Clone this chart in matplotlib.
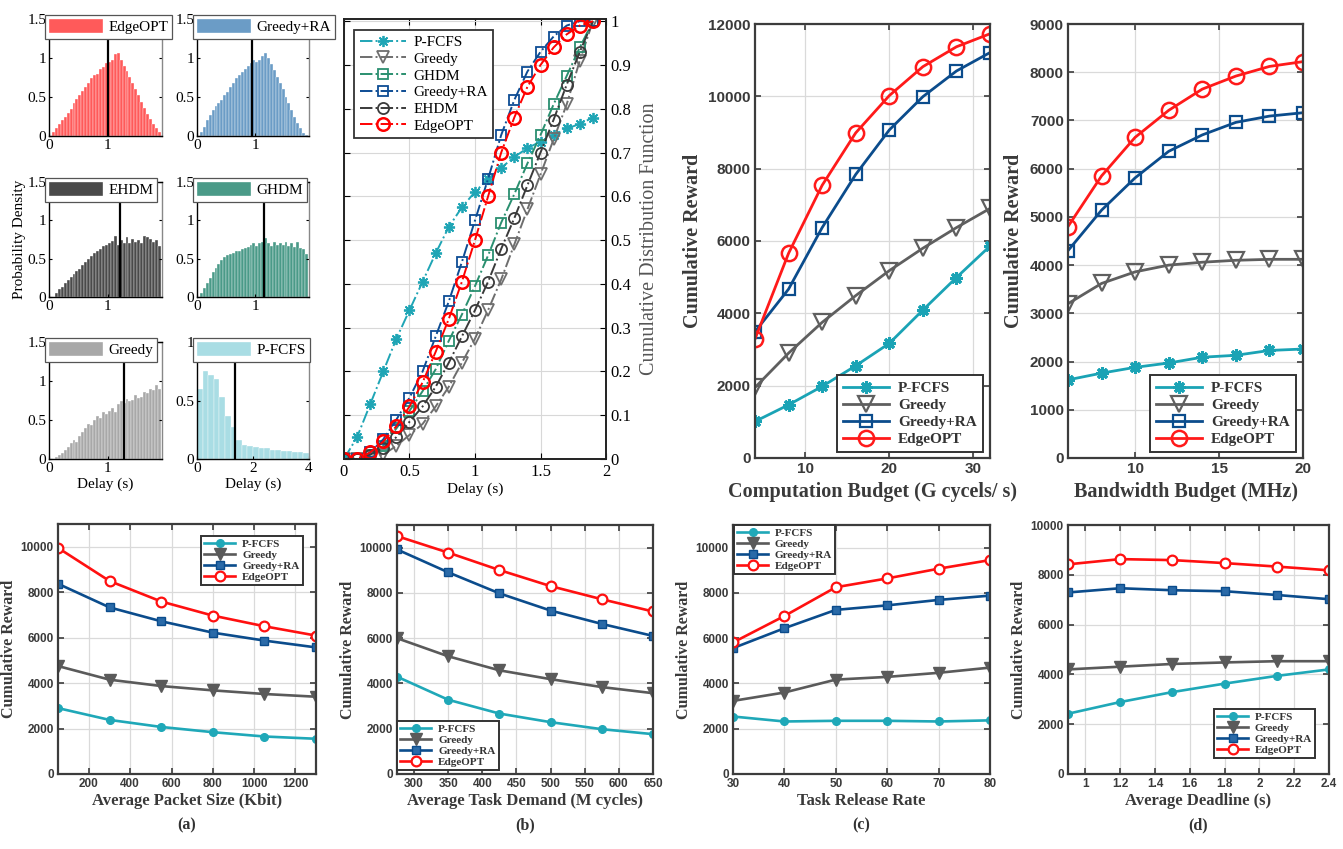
import matplotlib.pyplot as plt
from matplotlib.patches import Patch
import numpy as np

plt.rcParams['font.family'] = ['Liberation Serif', 'DejaVu Serif']

# ---------------- data ----------------
# delay histograms (bin width 0.05 s over 0..1.9 s)
hist_bin_width = 0.05
hist_edgeopt = [0.0, 0.05, 0.1, 0.15, 0.2, 0.25, 0.3, 0.35, 0.42, 0.48, 0.52, 0.58, 0.63,
                0.68, 0.75, 0.78, 0.8, 0.86, 0.88, 0.93, 0.95, 0.97, 1.05, 1.07, 0.97, 0.9,
                0.83, 0.76, 0.68, 0.6, 0.52, 0.44, 0.36, 0.28, 0.22, 0.16, 0.1, 0.05]
hist_greedy_ra = [0.0, 0.05, 0.12, 0.2, 0.27, 0.33, 0.38, 0.42, 0.46, 0.52, 0.57, 0.63, 0.68,
                  0.74, 0.78, 0.82, 0.86, 0.9, 0.93, 0.98, 0.95, 0.97, 1.02, 1.07, 1.0, 0.92,
                  0.84, 0.76, 0.68, 0.6, 0.5, 0.42, 0.33, 0.25, 0.17, 0.1, 0.04, 0.01]
hist_ehdm = [0.0, 0.0, 0.05, 0.1, 0.13, 0.18, 0.22, 0.26, 0.3, 0.34, 0.37, 0.42, 0.46, 0.5,
             0.54, 0.57, 0.6, 0.62, 0.66, 0.68, 0.7, 0.73, 0.8, 0.68, 0.75, 0.7, 0.78, 0.7,
             0.76, 0.72, 0.75, 0.7, 0.8, 0.78, 0.76, 0.72, 0.75, 0.66]
hist_ghdm = [0.0, 0.05, 0.12, 0.18, 0.25, 0.32, 0.38, 0.43, 0.48, 0.52, 0.55, 0.56, 0.58, 0.6,
             0.6, 0.62, 0.64, 0.65, 0.68, 0.7, 0.66, 0.7, 0.72, 0.77, 0.7, 0.66, 0.72, 0.68,
             0.7, 0.68, 0.72, 0.66, 0.7, 0.65, 0.72, 0.64, 0.62, 0.56]
hist_greedy = [0.0, 0.0, 0.02, 0.05, 0.08, 0.12, 0.15, 0.2, 0.24, 0.22, 0.3, 0.35, 0.4, 0.45,
               0.44, 0.5, 0.55, 0.52, 0.6, 0.58, 0.62, 0.65, 0.6, 0.7, 0.75, 0.72, 0.77, 0.74,
               0.76, 0.82, 0.78, 0.8, 0.86, 0.84, 0.9, 0.88, 0.95, 0.9]
# P-FCFS histogram (bin width 0.2 s over 0..4 s)
pfcfs_bin_width = 0.2
hist_pfcfs = [0.6, 0.75, 0.72, 0.68, 0.53, 0.37, 0.27, 0.16, 0.12, 0.11, 0.1, 0.09, 0.09,
              0.08, 0.08, 0.07, 0.07, 0.06, 0.06, 0.05]
mean_delay = {'EdgeOPT': 1.0, 'Greedy+RA': 0.95, 'EHDM': 1.2, 'GHDM': 1.15,
              'Greedy': 1.27, 'P-FCFS': 1.35}

# delay CDF
cdf_delay = [0, 0.1, 0.2, 0.3, 0.4, 0.5, 0.6, 0.7, 0.8, 0.9, 1.0, 1.1, 1.2, 1.3, 1.4, 1.5,
             1.6, 1.7, 1.8, 1.9]
cdf_pfcfs = [0, 0.05, 0.125, 0.2, 0.275, 0.34, 0.405, 0.47, 0.53, 0.575, 0.61, 0.64, 0.665,
             0.69, 0.71, 0.725, 0.74, 0.755, 0.765, 0.78]
cdf_greedy = [0, 0, 0.005, 0.01, 0.03, 0.055, 0.08, 0.12, 0.165, 0.22, 0.275, 0.34, 0.41,
              0.49, 0.57, 0.65, 0.73, 0.81, 0.91, 1.0]
cdf_ghdm = [0, 0, 0.01, 0.03, 0.07, 0.11, 0.155, 0.205, 0.27, 0.33, 0.395, 0.465, 0.54,
            0.605, 0.675, 0.74, 0.81, 0.875, 0.94, 1.0]
cdf_greedy_ra = [0, 0, 0.015, 0.045, 0.09, 0.14, 0.2, 0.28, 0.36, 0.45, 0.545, 0.64, 0.74,
                 0.82, 0.885, 0.93, 0.965, 0.99, 1.0, 1.0]
cdf_ehdm = [0, 0, 0.01, 0.025, 0.05, 0.085, 0.12, 0.165, 0.22, 0.28, 0.34, 0.405, 0.48,
            0.55, 0.625, 0.7, 0.775, 0.855, 0.93, 1.0]
cdf_edgeopt = [0, 0, 0.015, 0.04, 0.075, 0.12, 0.175, 0.245, 0.32, 0.405, 0.5, 0.6, 0.7,
               0.78, 0.85, 0.9, 0.94, 0.97, 0.99, 1.0]

# reward vs computation budget
comp_budget = [4, 8, 12, 16, 20, 24, 28, 32]
comp_pfcfs = [1010, 1470, 1980, 2550, 3170, 4090, 4990, 5860]
comp_greedy = [1950, 2900, 3750, 4490, 5180, 5800, 6370, 6900]
comp_greedy_ra = [3490, 4670, 6370, 7840, 9070, 9990, 10700, 11210]
comp_edgeopt = [3290, 5660, 7540, 8990, 10020, 10820, 11370, 11730]

# reward vs bandwidth budget
bw_budget = [6, 8, 10, 12, 14, 16, 18, 20]
bw_pfcfs = [1620, 1760, 1880, 1970, 2090, 2130, 2230, 2260]
bw_greedy = [3200, 3620, 3860, 4000, 4060, 4100, 4120, 4120]
bw_greedy_ra = [4300, 5140, 5810, 6360, 6700, 6960, 7090, 7160]
bw_edgeopt = [4800, 5850, 6650, 7210, 7650, 7920, 8120, 8220]

# (a) packet size
packet_size = [50, 300, 550, 800, 1050, 1300]
pkt_pfcfs = [2900, 2380, 2070, 1840, 1650, 1550]
pkt_greedy = [4750, 4150, 3870, 3680, 3520, 3400]
pkt_greedy_ra = [8370, 7330, 6720, 6220, 5870, 5570]
pkt_edgeopt = [9950, 8490, 7590, 6970, 6500, 6090]

# (b) task demand
task_demand = [275, 350, 425, 500, 575, 650]
dem_pfcfs = [4300, 3280, 2670, 2290, 1980, 1760]
dem_greedy = [6000, 5200, 4580, 4190, 3840, 3570]
dem_greedy_ra = [9920, 8910, 7980, 7220, 6630, 6100]
dem_edgeopt = [10510, 9780, 9010, 8300, 7720, 7180]

# (c) release rate
release_rate = [30, 40, 50, 60, 70, 80]
rel_pfcfs = [2540, 2320, 2350, 2350, 2320, 2370]
rel_greedy = [3230, 3600, 4170, 4290, 4470, 4700]
rel_greedy_ra = [5560, 6440, 7250, 7450, 7690, 7880]
rel_edgeopt = [5810, 6980, 8250, 8640, 9070, 9450]

# (d) deadline
deadline = [0.9, 1.2, 1.5, 1.8, 2.1, 2.4]
ddl_pfcfs = [2420, 2890, 3290, 3630, 3940, 4200]
ddl_greedy = [4200, 4310, 4420, 4480, 4530, 4530]
ddl_greedy_ra = [7290, 7460, 7380, 7340, 7190, 7020]
ddl_edgeopt = [8420, 8630, 8590, 8470, 8330, 8180]

reward_names = ['P-FCFS', 'Greedy', 'Greedy+RA', 'EdgeOPT']

# ---------------- figure ----------------
W, H = 1343, 849
fig = plt.figure(figsize=(W / 100, H / 100), dpi=100)


def px_axes(l, t, r, b):
    return fig.add_axes([l / W, 1 - b / H, (r - l) / W, (b - t) / H])


def sans_bold_ticks(ax, size):
    for lab in ax.get_xticklabels() + ax.get_yticklabels():
        lab.set_fontfamily('Liberation Sans')
        lab.set_fontweight('bold')
        lab.set_fontsize(size)
        lab.set_color('#3a3a3a')


def short_num(v):
    return ('%g' % v)


# ---- delay histograms ----
hist_specs = [
    ('EdgeOPT', hist_edgeopt, '#ff5a5a', (49, 19, 162, 136)),
    ('Greedy+RA', hist_greedy_ra, '#6b9cc6', (197, 19, 309, 136)),
    ('EHDM', hist_ehdm, '#4a4a4a', (49, 182, 162, 297)),
    ('GHDM', hist_ghdm, '#4a9a88', (197, 182, 309, 297)),
    ('Greedy', hist_greedy, '#a8a8a8', (49, 342, 162, 459)),
    ('P-FCFS', hist_pfcfs, '#a9dde4', (197, 342, 309, 459)),
]
for name, vals, col, box in hist_specs:
    ax = px_axes(*box)
    width = pfcfs_bin_width if name == 'P-FCFS' else hist_bin_width
    lefts = np.arange(len(vals)) * width
    ax.bar(lefts, vals, width=width, align='edge', color=col, edgecolor='white',
           linewidth=0.25, label=name)
    ax.axvline(mean_delay[name], color='black', lw=1.6)
    if name == 'P-FCFS':
        ax.set_xlim(0, 4)
        ax.set_ylim(0, 1)
        xt, yt = [0, 2, 4], [0, 0.5, 1]
    else:
        ax.set_xlim(0, 1.92)
        ax.set_ylim(0, 1.5)
        xt, yt = [0, 1], [0, 0.5, 1, 1.5]
    ax.set_xticks(xt)
    ax.set_xticklabels([short_num(v) for v in xt])
    ax.set_yticks(yt)
    ax.set_yticklabels([short_num(v) for v in yt])
    ax.tick_params(direction='in', length=2.5, labelsize=11, top=False, right=True, pad=2)
    for s in ax.spines.values():
        s.set_linewidth(1.0)
    ax.spines['right'].set_color('#888888')
    leg = ax.legend(loc='upper left', bbox_to_anchor=(-0.035, 1.035), handlelength=3.5,
                    handleheight=1.0, fancybox=False, framealpha=1, edgecolor='#555555',
                    borderpad=0.28, handletextpad=0.35, borderaxespad=0, fontsize=11)
    leg.get_frame().set_linewidth(0.9)
    if name == 'EHDM':
        ax.set_ylabel('Probability Density', fontsize=11, labelpad=1)
    if name in ('Greedy', 'P-FCFS'):
        ax.set_xlabel('Delay (s)', fontsize=11, labelpad=2)

# ---- delay CDF ----
ax = px_axes(344, 19, 606, 459)
cdf_specs = [
    ('P-FCFS', cdf_pfcfs, '#1fa5b5', (8, 2, 0), 8, 'full'),
    ('Greedy', cdf_greedy, '#6e6e6e', 'v', 8, 'none'),
    ('GHDM', cdf_ghdm, '#2a8f6f', 's', 6.5, 'none'),
    ('Greedy+RA', cdf_greedy_ra, '#0d4c94', 's', 6.5, 'none'),
    ('EHDM', cdf_ehdm, '#3a3a3a', 'o', 8, 'none'),
    ('EdgeOPT', cdf_edgeopt, '#ff0000', 'o', 9, 'none'),
]
for name, vals, col, mk, ms, fill in cdf_specs:
    ax.plot(cdf_delay, vals, linestyle='-.', color=col, lw=1.4, marker=mk, ms=ms,
            mfc='none' if fill == 'none' else col, mec=col,
            mew=1.8 if name == 'EdgeOPT' else 1.3, label=name)
ax.set_xlim(0, 2)
ax.set_ylim(0, 1.005)
cdf_xt = [0, 0.5, 1, 1.5, 2]
cdf_yt = [0, 0.1, 0.2, 0.3, 0.4, 0.5, 0.6, 0.7, 0.8, 0.9, 1]
ax.set_xticks(cdf_xt)
ax.set_xticklabels([short_num(v) for v in cdf_xt])
ax.set_yticks(cdf_yt)
ax.set_yticklabels([short_num(v) for v in cdf_yt])
ax.yaxis.tick_right()
ax.yaxis.set_label_position('right')
ax.grid(True, color='#d8d8d8', lw=0.8)
ax.set_axisbelow(True)
ax.tick_params(direction='in', length=4, labelsize=12, left=True, right=True, top=True)
for s in ax.spines.values():
    s.set_linewidth(1.4)
    s.set_color('#222222')
ax.set_ylabel('Cumulative Distribution Function', fontsize=14.5, color='#555555', labelpad=6)
ax.set_xlabel('Delay (s)', fontsize=11, labelpad=2)
ax.legend(loc='upper left', bbox_to_anchor=(0.04, 0.975), fancybox=False, framealpha=1,
          edgecolor='#333333', fontsize=11, handlelength=3.0, labelspacing=0.2,
          borderpad=0.35, borderaxespad=0, handletextpad=0.5).get_frame().set_linewidth(1.3)

# ---- reward curves ----
reward_style = {
    'big': {
        'P-FCFS': dict(color='#1aa3b5', marker=(8, 2, 0), ms=9, mew=2.2),
        'Greedy': dict(color='#5f5f5f', marker='v', ms=11, mfc='none', mew=1.6),
        'Greedy+RA': dict(color='#0b4c8c', marker='s', ms=8, mfc='none', mew=1.6),
        'EdgeOPT': dict(color='#ff1a1a', marker='o', ms=11, mfc='none', mew=1.8),
    },
    'small': {
        'P-FCFS': dict(color='#1fa8b8', marker='o', ms=5.5),
        'Greedy': dict(color='#5a5a5a', marker='v', ms=8),
        'Greedy+RA': dict(color='#0b4c8c', marker='s', ms=5.5, mfc='#2a6aa8'),
        'EdgeOPT': dict(color='#ff1010', marker='o', ms=7, mfc='white', mew=1.6),
    },
}


def reward_panel(box, x, series, xlim, xticks, ylim, yticks, xlabel, size, leg_loc,
                 leg_anchor, tag=None):
    ax = px_axes(*box)
    big = size == 'big'
    for name, vals in zip(reward_names, series):
        ax.plot(x, vals, lw=2.0 if big else 1.9, label=name, **reward_style[size][name])
    ax.set_xlim(*xlim)
    ax.set_ylim(*ylim)
    ax.set_xticks(xticks)
    ax.set_xticklabels([short_num(v) for v in xticks])
    ax.set_yticks(yticks)
    ax.grid(True, color='#dadada', lw=0.9)
    ax.set_axisbelow(True)
    ax.tick_params(direction='in', length=4, width=1.2, color='#3c3c3c', top=True,
                   right=True, pad=3)
    for s in ax.spines.values():
        s.set_color('#3c3c3c')
        s.set_linewidth(1.6)
    sans_bold_ticks(ax, 11 if big else 8.5)
    ax.set_ylabel('Cumulative Reward', fontsize=14.5 if big else 11.5, fontweight='bold',
                  color='#3a3a3a', labelpad=4 if big else 3)
    ax.set_xlabel(xlabel, fontsize=14.5 if big else 12, fontweight='bold', color='#3a3a3a',
                  labelpad=4 if big else 2)
    leg = ax.legend(loc=leg_loc, bbox_to_anchor=leg_anchor, fancybox=False, framealpha=1,
                    edgecolor='#333333', borderaxespad=0,
                    prop=dict(weight='bold', size=11 if big else 8),
                    handlelength=3.0 if big else 2.8,
                    labelspacing=0.22 if big else 0.1, borderpad=0.4 if big else 0.3,
                    handletextpad=0.6)
    leg.get_frame().set_linewidth(1.4)
    for t in leg.get_texts():
        t.set_color('#333333')
    if tag:
        ax.text(0.5, -0.205, tag, transform=ax.transAxes, ha='center', va='center',
                fontsize=11.5, fontweight='bold', color='#333333')
    return ax


reward_panel((755, 24, 990, 458), comp_budget,
             [comp_pfcfs, comp_greedy, comp_greedy_ra, comp_edgeopt],
             (4, 32), [10, 20, 30], (0, 12000), range(0, 12001, 2000),
             'Computation Budget (G cycels/ s)', 'big', 'lower right', (0.97, 0.013))
reward_panel((1068, 24, 1303, 458), bw_budget,
             [bw_pfcfs, bw_greedy, bw_greedy_ra, bw_edgeopt],
             (6, 20), [10, 15, 20], (0, 9000), range(0, 9001, 1000),
             'Bandwidth Budget (MHz)', 'big', 'lower right', (0.97, 0.013))
reward_panel((58, 524, 316, 774), packet_size,
             [pkt_pfcfs, pkt_greedy, pkt_greedy_ra, pkt_edgeopt],
             (50, 1300), range(200, 1201, 200), (0, 11000), range(0, 10001, 2000),
             'Average Packet Size (Kbit)', 'small', 'upper right', (0.948, 0.953), '(a)')
reward_panel((397, 525, 653, 774), task_demand,
             [dem_pfcfs, dem_greedy, dem_greedy_ra, dem_edgeopt],
             (275, 650), range(300, 651, 50), (0, 11000), range(0, 10001, 2000),
             'Average Task Demand (M cycles)', 'small', 'lower left', (0.0, 0.016), '(b)')
reward_panel((733, 525, 990, 774), release_rate,
             [rel_pfcfs, rel_greedy, rel_greedy_ra, rel_edgeopt],
             (30, 80), range(30, 81, 10), (0, 11000), range(0, 10001, 2000),
             'Task Release Rate', 'small', 'upper left', (0.003, 1.0), '(c)')
reward_panel((1068, 525, 1329, 774), deadline,
             [ddl_pfcfs, ddl_greedy, ddl_greedy_ra, ddl_edgeopt],
             (0.9, 2.4), [1, 1.2, 1.4, 1.6, 1.8, 2, 2.2, 2.4], (0, 10000),
             range(0, 10001, 2000), 'Average Deadline (s)', 'small', 'lower right',
             (0.948, 0.064), '(d)')

fig.savefig('out.png', dpi=100)
